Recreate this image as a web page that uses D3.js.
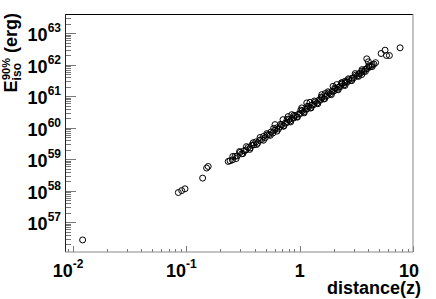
<!DOCTYPE html>
<html>
<head>
<meta charset="utf-8">
<script src="https://cdn.jsdelivr.net/npm/d3@7"></script>
<style>
body { margin: 0; background: #fff; }
svg { display: block; font-family: "Liberation Sans", Arial, Helvetica, sans-serif; font-weight: bold; }
</style>
</head>
<body>
<svg id="chart" width="436" height="299"></svg>
<script>
// redshift of each burst, and E_iso (erg)
const redshift = [
    0.01216, 0.0850, 0.0910, 0.0973, 0.1393, 0.1510, 0.1559, 0.2342,
    0.243, 0.255, 0.269, 0.281, 0.298, 0.308, 0.323, 0.336, 0.350, 0.366,
    0.378, 0.395, 0.410, 0.426, 0.443, 0.462, 0.480, 0.497, 0.518, 0.538,
    0.559, 0.580, 0.602, 0.626, 0.649, 0.675, 0.697, 0.722, 0.747, 0.773,
    0.800, 0.827, 0.855, 0.886, 0.916, 0.948, 0.980, 1.014, 1.049, 1.085,
    1.123, 1.162, 1.202, 1.243, 1.286, 1.331, 1.377, 1.424, 1.474, 1.525,
    1.578, 1.632, 1.688, 1.747, 1.807, 1.869, 1.934, 2.000, 2.070, 2.142,
    2.215, 2.293, 2.372, 2.453, 2.539, 2.626, 2.717, 2.810, 2.907, 3.008,
    3.112, 3.220, 3.331, 3.446, 3.566, 3.689, 3.816, 3.948, 4.084, 4.226,
    4.371, 4.523, 4.679,
    0.257, 0.275, 0.295, 0.316, 0.339, 0.363, 0.389, 0.417, 0.447, 0.479,
    0.513, 0.550, 0.589, 0.631, 0.676, 0.724, 0.776, 0.832, 0.891, 0.955,
    1.023, 1.096, 1.175, 1.259, 1.349, 1.445, 1.549, 1.660, 1.778, 1.905,
    2.042, 2.188, 2.344, 2.512, 2.692, 2.884, 3.090, 3.311, 3.548, 3.802,
    4.074, 4.365,
    0.606, 0.713, 0.790, 0.852, 1.044, 1.155, 1.235, 1.566, 1.676, 1.972,
    2.125, 2.352, 2.516, 3.531, 3.909, 4.038, 5.227, 5.667, 5.840, 6.188, 7.693
];
const eiso = [
    2.73e56, 8.77e57, 1.01e58, 1.15e58, 2.52e58, 5.25e58, 5.90e58, 8.51e58,
    8.97e58, 9.55e58, 1.23e59, 1.28e59, 1.65e59, 1.49e59, 1.86e59, 1.96e59, 2.36e59, 2.30e59,
    2.80e59, 2.88e59, 3.55e59, 3.24e59, 4.01e59, 4.23e59, 5.32e59, 4.81e59, 5.96e59, 6.10e59,
    7.35e59, 6.82e59, 8.40e59, 9.89e59, 9.18e59, 1.08e60, 1.26e60, 1.16e60, 1.41e60, 1.47e60,
    1.79e60, 1.65e60, 1.96e60, 2.04e60, 2.42e60, 2.24e60, 2.73e60, 2.83e60, 3.44e60, 3.18e60,
    3.88e60, 3.93e60, 4.68e60, 4.32e60, 5.26e60, 5.46e60, 6.65e60, 6.14e60, 7.48e60, 7.58e60,
    9.02e60, 8.34e60, 1.02e61, 1.05e61, 1.28e61, 1.19e61, 1.44e61, 1.46e61, 1.74e61, 1.65e61,
    1.96e61, 2.03e61, 2.48e61, 2.29e61, 2.79e61, 2.82e61, 3.36e61, 3.18e61, 3.78e61, 3.92e61,
    4.67e61, 4.41e61, 5.26e61, 5.45e61, 6.34e61, 6.13e61, 7.30e61, 7.57e61, 8.80e61, 8.71e61,
    1.01e62, 1.05e62, 1.17e62,
    1.23e59, 1.05e59, 1.76e59, 1.51e59, 2.52e59, 2.06e59, 3.35e59, 2.94e59, 4.91e59, 4.01e59,
    6.54e59, 5.73e59, 9.57e59, 7.82e59, 1.28e60, 1.12e60, 1.87e60, 1.53e60, 2.49e60, 2.18e60,
    3.64e60, 2.98e60, 4.86e60, 4.25e60, 7.10e60, 5.81e60, 9.47e60, 8.30e60, 1.39e61, 1.13e61,
    1.85e61, 1.62e61, 2.70e61, 2.21e61, 3.60e61, 3.16e61, 5.27e61, 4.31e61, 7.03e61, 6.16e61,
    9.38e61, 8.80e61,
    1.26e60, 1.81e60, 2.26e60, 2.61e60, 4.28e60, 6.17e60, 6.44e60, 1.13e61, 1.22e61, 2.08e61,
    2.36e61, 2.67e61, 3.01e61, 4.91e61, 1.55e62, 1.25e62, 2.29e62, 2.92e62, 1.98e62, 1.98e62, 3.48e62
];

const xMajor = [0.01, 0.1, 1, 10];
const xLabelBase = ["10", "10", "1", "10"];
const xLabelExp = ["-2", "-1", "", ""];
const yMajor = [1e57, 1e58, 1e59, 1e60, 1e61, 1e62, 1e63];
const yLabelExp = ["57", "58", "59", "60", "61", "62", "63"];

const svg = d3.select("#chart");
const padLeft = 65, padRight = 413, padTop = 14, padBottom = 252;

const x = d3.scaleLog().domain([0.0085, 10]).range([padLeft, padRight]);
const y = d3.scaleLog().domain([1.13e56, 4.12e63]).range([padBottom, padTop]);

// minor ticks 2..9 in each decade
function minors(scale) {
    const [a, b] = scale.domain();
    const out = [];
    for (let e = Math.floor(Math.log10(a)); e <= Math.ceil(Math.log10(b)); e++) {
        for (let m = 2; m <= 9; m++) {
            const v = m * Math.pow(10, e);
            if (v > a && v < b) out.push(v);
        }
    }
    return out;
}

function styleAxis(g) {
    g.select(".domain").remove();
    g.selectAll("text").remove();
    g.selectAll("line").attr("stroke", "#777").attr("shape-rendering", "crispEdges");
}

svg.append("g").attr("transform", `translate(0,${padBottom})`)
    .call(d3.axisBottom(x).tickValues(minors(x)).tickSize(-3).tickFormat(""))
    .call(styleAxis);
svg.append("g").attr("transform", `translate(0,${padBottom})`)
    .call(d3.axisBottom(x).tickValues(xMajor).tickSize(-6).tickFormat(""))
    .call(styleAxis);
svg.append("g").attr("transform", `translate(${padLeft},0)`)
    .call(d3.axisLeft(y).tickValues(minors(y)).tickSize(-6).tickFormat(""))
    .call(styleAxis);
svg.append("g").attr("transform", `translate(${padLeft},0)`)
    .call(d3.axisLeft(y).tickValues(yMajor).tickSize(-11).tickFormat(""))
    .call(styleAxis);

// frame
svg.append("line").attr("x1", padLeft).attr("x2", padRight).attr("y1", padTop + 0.5).attr("y2", padTop + 0.5)
    .attr("stroke", "#000");
svg.append("line").attr("x1", padLeft + 0.5).attr("x2", padLeft + 0.5).attr("y1", padTop).attr("y2", padBottom)
    .attr("stroke", "#222");
svg.append("line").attr("x1", padLeft).attr("x2", padRight).attr("y1", padBottom).attr("y2", padBottom)
    .attr("stroke", "#888");
svg.append("line").attr("x1", padRight).attr("x2", padRight).attr("y1", padTop).attr("y2", padBottom)
    .attr("stroke", "#888");

// x tick labels
xMajor.forEach((v, i) => {
    const t = svg.append("text")
        .attr("x", x(v) - (xLabelExp[i] ? 5 : (xLabelBase[i] === "10" ? 4 : 0)))
        .attr("y", 277)
        .attr("text-anchor", "middle")
        .style("font-size", "18px");
    t.append("tspan").text(xLabelBase[i]);
    if (xLabelExp[i]) t.append("tspan").attr("dy", -9).style("font-size", "12px").text(xLabelExp[i]);
});

// y tick labels
yMajor.forEach((v, i) => {
    const t = svg.append("text")
        .attr("x", 61)
        .attr("y", y(v) + 8)
        .attr("text-anchor", "end")
        .style("font-size", "18px");
    t.append("tspan").text("10");
    t.append("tspan").attr("dy", -9).style("font-size", "12px").text(yLabelExp[i]);
});

// axis titles
svg.append("text")
    .attr("x", 421).attr("y", 294)
    .attr("text-anchor", "end")
    .style("font-size", "18px")
    .text("distance(z)");

const yt = svg.append("text")
    .attr("transform", "translate(17,13) rotate(-90)")
    .attr("text-anchor", "end")
    .style("font-size", "18px")
    .style("white-space", "pre");
yt.append("tspan").text("E");
yt.append("tspan").attr("dy", 4).style("font-size", "12px").text("iso");
yt.append("tspan").attr("dx", -17).attr("dy", -11).style("font-size", "11px").text("90%");
yt.append("tspan").attr("dy", 7).text(" (erg)");

// points
svg.append("g").selectAll("circle")
    .data(redshift.map((z, i) => ({ z: z, e: eiso[i] })))
    .enter().append("circle")
    .attr("cx", d => x(d.z))
    .attr("cy", d => y(d.e))
    .attr("r", 3)
    .attr("fill", "none")
    .attr("stroke", "#000")
    .attr("stroke-width", 1);
</script>
</body>
</html>
